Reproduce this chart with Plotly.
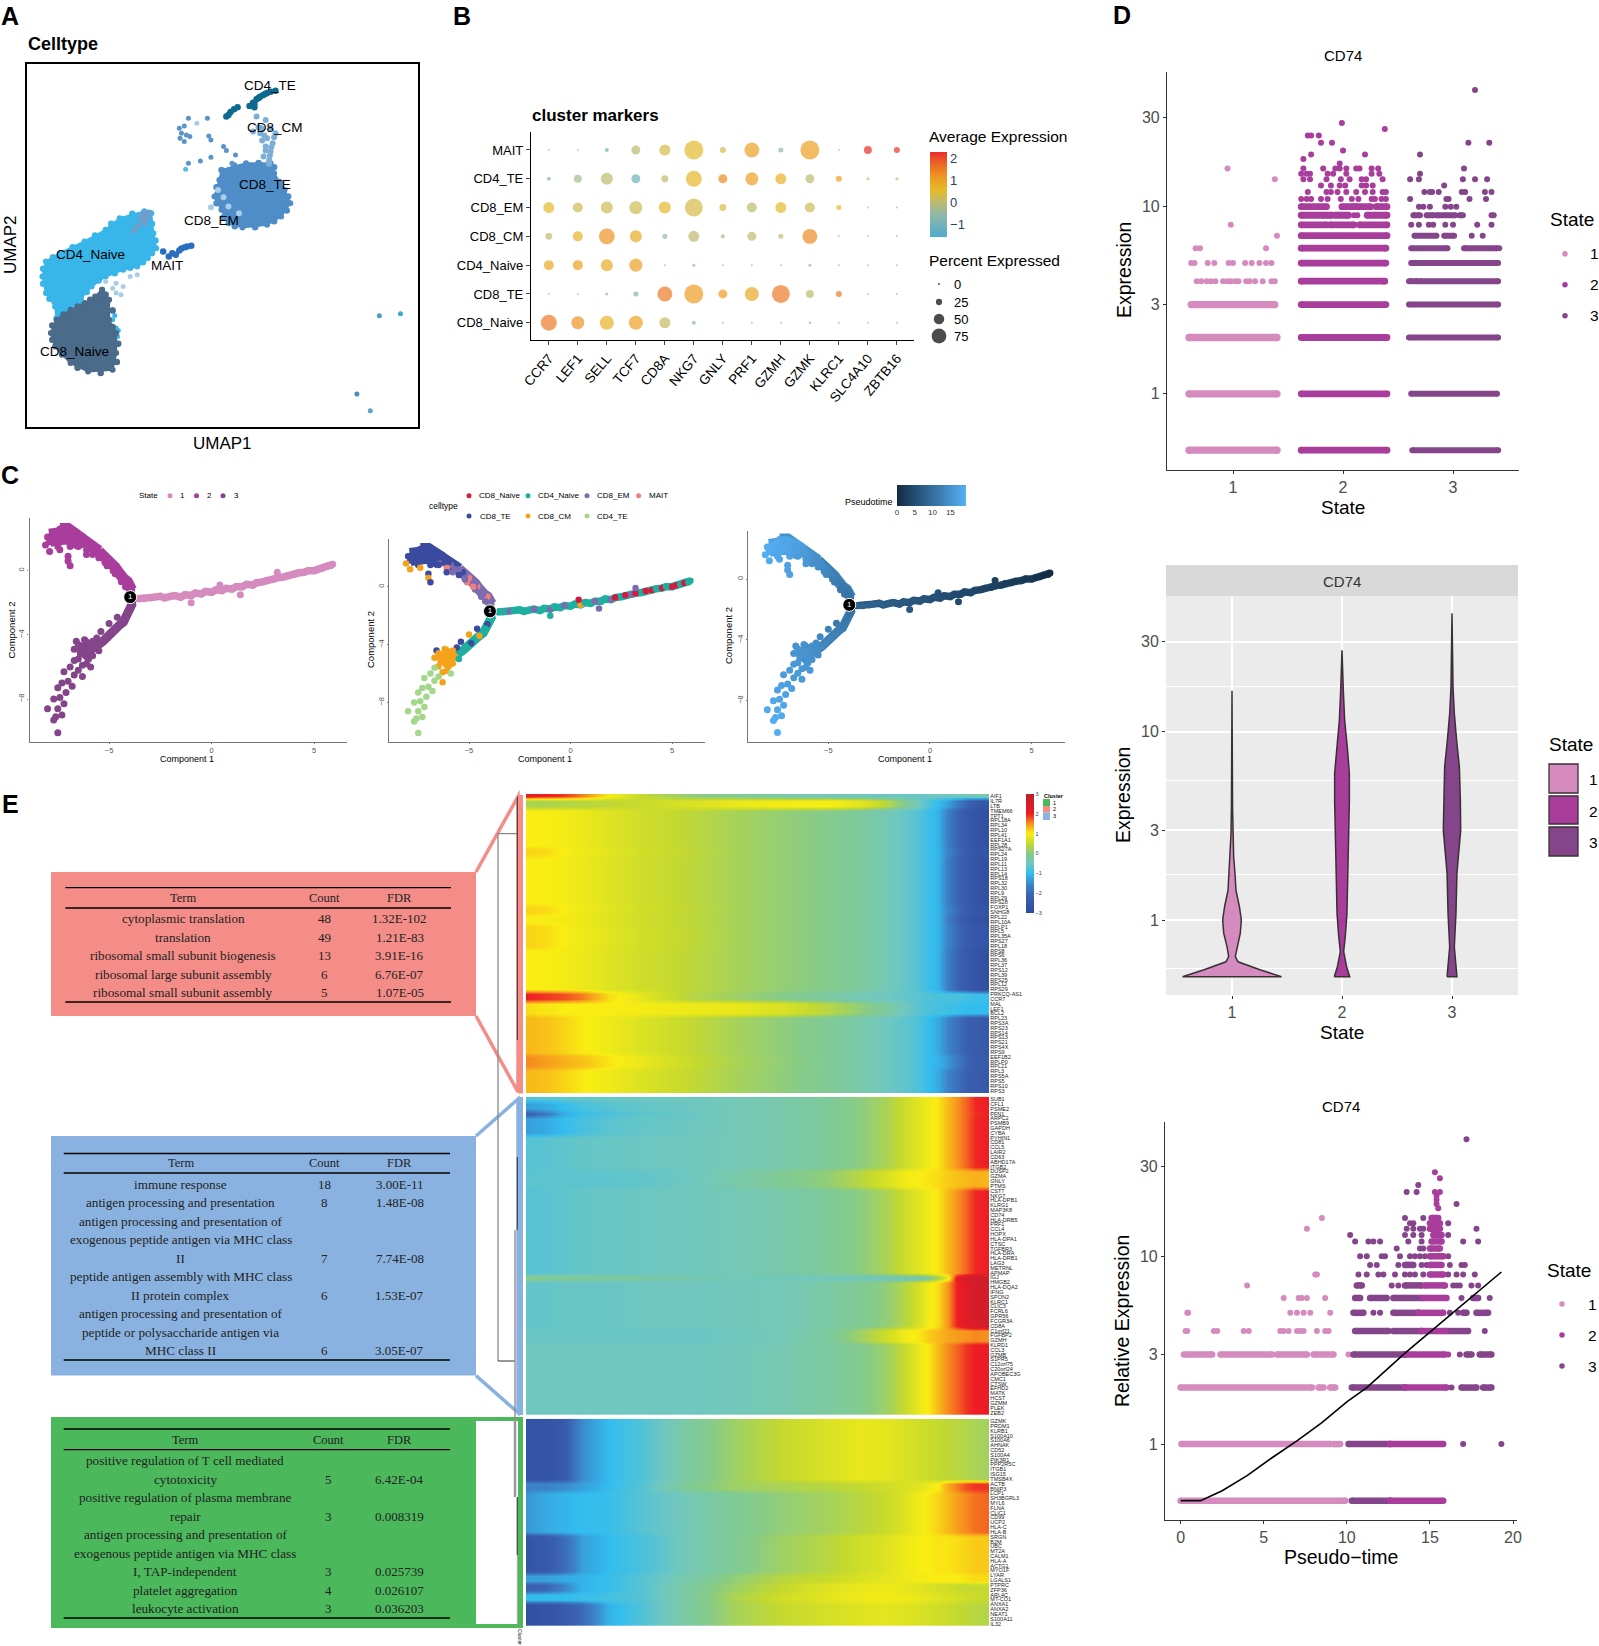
import plotly.graph_objects as go

W, H = 1599, 1646
SANS = "Liberation Sans"
SERIF = "Liberation Serif"
S_COL = {1: "#D58BBE", 2: "#A93D9C", 3: "#85458A"}

# ---------- A: UMAP (outlines and points, arbitrary UMAP units)
naive4_x = [167,132,112,82,47,27,22,27,40,42,62,77,92,112,137,157,172,184,180,177]
naive4_y = [647,627,592,557,522,497,452,402,362,327,357,387,422,452,472,482,507,537,582,642]
naive4_ex = [150,120,97,65,37,23,23,32,47,70,85,102,125,147,165,178,183,178]
naive4_ey = [640,610,575,540,510,475,430,385,345,372,405,440,462,478,495,522,560,610]
naive8_x = [107,117,117,127,127,122,87,62,40,34,42,62,82,97]
naive8_y = [412,382,322,282,222,172,167,192,242,282,322,352,372,392]
naive8_ex = [112,122,122,130,128,105,72,50,36,36,52,72,90]
naive8_ey = [397,350,300,250,195,162,178,218,262,305,338,362,382]
te8_x = [277,312,347,352,367,375,362,342,307,287,277,267,274]
te8_y = [772,792,792,762,712,672,632,607,599,612,652,692,742]
te8_ex = [295,330,352,360,372,370,352,325,296,280,270,270]
te8_ey = [785,793,780,735,692,650,618,600,603,630,672,720]
stripe_x = [122,127,129,127,122,117,112,90,75,60,50,125,130]
stripe_y = [352,297,272,247,322,382,400,380,372,362,345,335,290]
light_x = [127,137,127,147,157,112,122,134,272,287,302,280,262]
light_y = [432,422,402,452,457,437,417,397,712,662,642,690,660]
cm8_x = [327,340,334,347,332,342,340,347,337,345,354,350,322,345,335,346,340,338,352,348,344,330]
cm8_y = [932,922,897,897,882,867,842,827,812,802,882,852,887,790,860,815,830,875,870,840,792,900]
te4_x = [317,324,322,327,332,339,347,354,324,287,290,295,300,284,330,336,342]
te4_y = [964,960,974,984,992,1000,1007,1010,970,937,946,954,960,932,988,996,1003]
sc_x = [217,224,230,257,220,227,218,232,224,259,262,280,284,297,262,247,230,292]
sc_y = [897,904,927,927,882,877,867,872,857,874,862,842,830,817,810,799,792,792]
em8_x = [167,172,162,167,157,174,152,163,170]
em8_y = [642,632,622,610,602,644,590,632,620]
mait_x = [194,202,207,217,225,234,212,220,228]
mait_y = [527,512,522,530,540,544,517,536,542]
out_x = [502,532,470,489,226,242]
out_y = [334,340,99,49,774,912]
out_c = ["#4B9CC0","#36A9D5","#4B8CB8","#5BA5CC","#5DB7E5","#A9CDE8"]
umap_lab = ["CD4_TE","CD8_CM","CD8_TE","CD8_EM","CD4_Naive","MAIT","CD8_Naive"]
umap_lab_x = [269.5,275,264.5,211,90,167,74.4]
umap_lab_y = [85.7,127.7,184,220,254,265,351.7]

# ---------- B: dot plot
genes = ["CCR7","LEF1","SELL","TCF7","CD8A","NKG7","GNLY","PRF1","GZMH","GZMK","KLRC1","SLC4A10","ZBTB16"]
ctypes = ["CD8_Naive","CD8_TE","CD4_Naive","CD8_CM","CD8_EM","CD4_TE","MAIT"]
pct_MAIT =   [0,0,12,41,53,100,24,76,18,100,0,35,24]
pct_CD4TE =  [12,35,59,41,29,82,41,65,53,41,24,6,6]
pct_CD8EM =  [53,47,59,65,59,94,29,47,53,47,18,0,0]
pct_CD8CM =  [29,47,82,59,18,53,12,41,18,76,0,0,0]
pct_CD4N =   [47,47,59,65,0,6,0,0,0,6,0,0,0]
pct_CD8TE =  [0,0,6,18,76,100,41,71,94,35,24,0,0]
pct_CD8N =   [82,65,71,71,53,12,0,0,0,3,0,0,0]
avg_MAIT =   [0,0,-1,0,.3,.5,.3,1,-.5,1,0,2.3,2.2]
avg_CD4TE =  [-.6,-.3,0,-1.1,0,.6,1.3,1,.7,0,1,0,0]
avg_CD8EM =  [.5,.2,.2,.2,.6,.3,.4,0,.5,.2,.6,0,0]
avg_CD8CM =  [0,.7,1.2,.8,-.5,0,-.3,0,0,1.3,0,0,0]
avg_CD4N =   [.8,1,.8,1,-.3,-.6,-.3,-.3,-.3,-.5,-.3,-.3,-.3]
avg_CD8TE =  [0,-.3,-.7,-.8,1.5,1.1,1.1,.9,1.5,0,1.5,-.3,-.3]
avg_CD8N =   [1.5,1.2,.7,1,.1,-.7,-.5,-.3,-.3,-.5,-.3,-.3,-.3]
pct_rows = [pct_CD8N,pct_CD8TE,pct_CD4N,pct_CD8CM,pct_CD8EM,pct_CD4TE,pct_MAIT]
avg_rows = [avg_CD8N,avg_CD8TE,avg_CD4N,avg_CD8CM,avg_CD8EM,avg_CD4TE,avg_MAIT]
dot_scale = [[0,"#4FABCB"],[.26,"#8FB7A8"],[.41,"#BDBB6E"],[.55,"#E6BA28"],[.7,"#EE9A22"],[.85,"#EC6A26"],[1,"#E92B2B"]]

# ---------- C: trajectory (Component 1, Component 2, pseudotime, celltype)
right_x = [-3.6,-3.3,-3.0,-2.8,-2.5,-2.3,-2.0,-1.8,-1.5,-1.3,-1.0,-0.8,-0.5,-0.3,0.0,0.2,0.5,0.7,1.0,1.2,1.5,1.7,2.0,2.2,2.5,2.7,3.0,3.2,3.5,3.7,4.0,4.2,4.5,4.7,5.0,5.2,5.4,5.6,5.8,5.9,-1.0,0.4,1.4,3.2]
right_y = [-1.75,-1.75,-1.7,-1.65,-1.6,-1.7,-1.6,-1.55,-1.65,-1.5,-1.55,-1.4,-1.45,-1.3,-1.35,-1.2,-1.25,-1.1,-1.15,-1.0,-1.0,-0.85,-0.9,-0.75,-0.7,-0.6,-0.55,-0.45,-0.4,-0.3,-0.25,-0.15,-0.1,0.0,0.0,0.1,0.15,0.25,0.3,0.4,-2.0,-0.9,-1.5,-0.1]
right_pt = [8.4,8.2,8,7.8,7.6,7.4,7.2,7,6.8,6.6,6.4,6.2,6,5.8,5.6,5.4,5.2,5,4.8,4.6,4.4,4.2,4,3.8,3.6,3.4,3.2,3,2.8,2.6,2.4,2.2,2,1.8,1.5,1.2,.9,.6,.3,.1,6.4,5.2,4.4,3]
right_c = ["N4","N4","EM","N4","N4","N4","N4","EM","N4","N4","EM","N4","N4","EM","N4","N4","CM","N4","N4","EM","N4","N4","EM","N8","N4","N8","EM","N8","N4","N8","N8","N4","N8","N4","N8","N8","N4","N8","N4","N4","N4","N8","EM","EM"]
upper_x = [-3.9,-4.0,-4.1,-4.3,-4.4,-4.6,-4.7,-4.9,-5.0,-5.2,-5.3,-5.5,-5.7,-5.9,-6.0,-6.2,-6.3,-6.5,-6.6,-6.8,-7.0,-7.2,-7.4,-6.8,-7.0,-7.2,-7.4,-7.6,-7.8,-8.0,-7.0,-7.3,-7.6,-7.9,-6.6,-6.4,-6.1,-5.8,-5.5,-5.1,-4.7,-4.4,-6.9,-7.5,-7.0,-8.1,-7.9,-7.4,-7.0,-6.9,-7.1,-7.5,-7.8,-6.6,-6.2,-5.7,-5.2,-4.8,-4.2,-6.5,-6.1]
upper_y = [-1.2,-0.9,-0.7,-0.5,-0.2,0,0.2,0.4,0.6,0.8,1.0,1.2,1.4,1.5,1.7,1.9,2.1,2.2,2.4,2.5,2.6,2.6,2.6,2.2,2.2,2.2,2.2,2.3,2.2,2.1,1.9,1.9,1.9,1.8,1.8,1.6,1.3,1.0,0.8,0.3,-0.2,-0.7,1.5,1.5,0.9,1.6,1.2,1.3,0.6,0.3,2.4,2.4,2.0,2.1,1.7,1.2,0.5,0,-1.0,1.5,1.0]
upper_pt = [10,10.4,10.8,11.2,11.6,12,12.4,12.8,13.2,13.6,14,14.4,14.8,15.2,15.6,16,16.4,16.8,17.2,17.4,17.6,17.8,18,17.5,17.7,17.9,18,18.2,18.4,18.6,17.6,17.9,18.1,18.4,17,16.6,15.8,15,14.2,13,12,11,17.2,18,17.4,18.8,18.6,18,17.2,17,17.8,18.2,18.5,16.9,16,14.8,13.4,12.4,10.6,16.4,15.6]
upper_c = ["EM","EM","MA","EM","EM","MA","EM","EM","MA","EM","TE","EM","TE","EM","TE","TE","TE","TE","TE","TE","TE","TE","TE","TE","TE","TE","TE","TE","TE","TE","TE","TE","TE","TE","TE","EM","MA","EM","TE","MA","EM","EM","TE","TE","TE","CM","CM","CM","CM","TE","TE","TE","TE","TE","TE","EM","EM","MA","EM","TE","TE"]
lower_x = [-3.85,-3.95,-4.1,-4.2,-4.3,-4.5,-4.7,-4.9,-5.1,-5.3,-5.5,-5.7,-5.9,-6.1,-6.3,-6.6,-6.2,-6.4,-6.0,-5.8,-6.1,-6.3,-6.5,-6.7,-6.5,-6.7,-6.9,-6.3,-7.2,-7.0,-6.8,-7.3,-7.5,-7.1,-7.4,-7.7,-7.2,-7.5,-7.3,-7.6,-7.7,-7.5,-8.0,-4.6,-5.0,-5.4,-5.6,-6.0,-6.4,-5.9,-5.5,-5.8,-6.2,-6.5,-6.7,-6.0]
lower_y = [-2.0,-2.3,-2.6,-2.9,-3.2,-3.4,-3.7,-3.9,-4.2,-4.4,-4.6,-4.8,-5.0,-5.1,-4.7,-4.4,-4.3,-5.2,-5.5,-5.3,-5.8,-5.9,-5.5,-4.9,-6.2,-6.5,-6.0,-6.6,-6.3,-6.9,-7.2,-7.0,-7.3,-7.6,-7.9,-8.0,-8.3,-8.6,-9.0,-9.1,-9.3,-10.1,-8.6,-2.9,-3.3,-3.8,-4.2,-4.7,-5.0,-6.0,-5.0,-4.4,-4.9,-4.6,-5.6,-5.0]
lower_pt = [10,10.4,10.8,11.2,11.6,12,12.4,12.8,13.2,13.6,14,14.4,14.8,15,15,15,14.8,15.2,15.2,15,15.4,15.6,15.6,15.4,16,16.2,16.2,16,16.4,16.6,16.8,16.9,17.2,17.4,17.6,17.8,17.8,18,18.2,18.4,18.6,19,18.2,11.2,12.4,13.6,14,14.8,15.2,15.8,14.2,14.6,15,15.2,15.8,15]
lower_c = ["N4","N4","TE","N4","N4","CM","N4","TE","N4","N4","N4","CM","CM","CM","CM","TE","CM","CM","CM","CM","CM","CM","CM","CM","T4","T4","T4","CM","T4","T4","T4","T4","T4","T4","T4","T4","T4","T4","T4","T4","T4","T4","T4","TE","CM","TE","TE","CM","CM","T4","N4","CM","CM","CM","T4","CM"]
head_x = [-7.9,-7.5,-7.1,-6.7,-6.4]
head_y = [2.05,2.2,2.2,2.05,1.8]
blob_x = [-5.8,-6.1,-6.4]
blob_y = [-4.5,-5.0,-5.3]
cell_col = {"N8":"#D01C3F","N4":"#1FAFA0","EM":"#7E6BAF","MA":"#F08080","TE":"#3B4B9F","CM":"#F5A21B","T4":"#A4D68B"}
pt_bar = [0,2,4,6,8,10,12,14,16,18,19.4]

# ---------- D: jitter bands (level -> [start, end] stretches) and single points
s1_bands = {0.5:[(.6,1.4)],1:[(.6,1.4)],2:[(.6,1.4)],3:[(.62,1.38)]}
s1_pts = {4:[.67,.71,.76,.80,.84,.91,.95,.98,1.02,1.05,1.12,1.15,1.2,1.27,1.35,1.38],
          5:[.62,.65,.77,.83,.96,1.0,1.11,1.17,1.24,1.3,1.35],
          6:[.66,.70,1.30],7:[1.40],8:[.98],14:[1.38],16:[.95]}
s2_bands = {0.5:[(1.62,2.4)],1:[(1.62,2.4)],2:[(1.62,2.4)],3:[(1.62,2.39)],4:[(1.62,2.38)],5:[(1.62,2.39)],
            6:[(1.62,2.39)],7:[(1.62,2.4)],8:[(1.62,1.85),(1.88,2.1),(2.15,2.4)],
            9:[(1.62,1.83),(1.85,1.9),(1.93,2.05),(2.22,2.4)],10:[(1.62,1.85),(1.99,2.1),(2.12,2.25),(2.3,2.4)]}
s2_pts = {9:[2.1,2.13],11:[1.62,1.67,1.71,1.80,1.86,1.98,2.08,2.14,2.26,2.29,2.35,2.39],
          12:[1.68,1.85,1.89,1.95,2.03,2.12,2.2,2.27,2.36,2.39],13:[1.8,1.89,1.97,2.02,2.17,2.21,2.27],
          14:[1.64,1.7,1.85,1.98,2.06,2.17,2.21,2.36],15:[1.62,1.67,1.7,1.86,1.91,2.03,2.26,2.33],
          16:[1.64,1.82,1.93,1.97,2.03,2.12,2.15,2.26,2.32],17:[1.97],18:[1.64],19:[1.71,2.2],20:[2.0],
          22:[1.8,1.9],24:[1.68,1.71,1.78],26:[2.38],28:[1.99]}
s3_bands = {0.5:[(2.63,3.41)],1:[(2.62,3.4)],2:[(2.6,3.41)],3:[(2.6,3.41)],4:[(2.6,2.68),(2.7,3.41)],
            5:[(2.62,3.41)],6:[(2.62,2.95),(3.1,3.4)],7:[(2.65,2.85),(2.92,3.01)],
            9:[(2.64,2.7),(2.76,2.82),(2.85,3.02),(3.06,3.09)]}
s3_pts = {6:[3.42],7:[3.17,3.27],8:[2.62,2.69,2.78,2.82,2.93,3.0,3.22,3.35],9:[3.35,3.37],
          10:[2.69,2.73,2.79,2.93,2.98,3.03],11:[2.61,2.94,2.96,3.15,3.3],
          12:[2.74,2.79,2.81,2.87,3.08,3.11,3.29,3.35],13:[2.92],14:[2.61,2.69,3.09,3.2,3.31],
          15:[2.7],16:[3.1],19:[2.7],22:[3.14,3.33],42:[3.2]}

# violin half widths, read level by level
v1_y = [.5,.543,.6,.64,.72,.85,1,1.18,1.44,1.77,2.17,2.89,4,16.5]
v1_w = [.45,.26,.055,.03,.045,.075,.085,.067,.036,.027,.015,.009,.005,0]
v2_y = [.5,.565,.68,.82,1.08,1.44,2.08,3,4.3,6,8.3,11.5,16.6,27]
v2_w = [.07,.042,.015,.03,.045,.05,.055,.06,.067,.067,.048,.024,.012,0]
v3_y = [.5,.565,.72,1.08,1.77,3,4.3,6.5,9,12.5,17.4,42.5]
v3_w = [.045,.036,.021,.036,.045,.079,.076,.067,.042,.021,.009,0]

# pseudotime panel
p1_bands = {0.5:[(0,9.9)],1:[(0.05,9.0),(9.2,9.6)],2:[(0,7.9),(8.3,8.6),(9,9.3)],3:[(.2,1.9),(2.4,5.5),(5.8,7.6),(8,9.2)]}
p1_pts = {3:[10.1],4:[.3,.4,2.0,2.2,3.8,4.1,6,6.2,6.5,7,7.2,7.4,8.2,8.7,8.9],5:[.4,.45,6.6,7,7.4,7.8,9],
          6:[6.2,7.1,7.3,7.6,8.7],7:[4.0],8:[8.1,8.2],14:[7.6],16:[8.5]}
p3_bands = {0.5:[(10.3,12.6)],1:[(10.1,12.6)],2:[(10.3,13.5),(16.9,17.8),(18.2,18.7)],3:[(10.4,13.5),(17.2,17.5),(18,18.7)],
            4:[(10.5,12.5),(12.8,14.5),(16,17.3)],5:[(10.4,11),(12.8,14.3),(17,17.2),(17.8,18.5)],
            6:[(10.5,10.8),(11.4,12.4),(12.8,14.5),(17.6,17.9)],7:[(10.6,10.9),(13.5,14.5)],9:[(13.5,14.0)]}
p3_pts = {1:[17,19.3],2:[16.3],3:[16.8],4:[18.3],5:[11.6,12,16.2,16.7],6:[16.9,18.6],7:[12.7,13.1,16.4,16.6,16.8,17.5,17.9],
          8:[10.7,11.2,11.9,12.2,12.9,13.5,13.8,14.1,14.6,16.1,16.6,17,17.7],9:[11.4,11.8,13.1,14.5,14.8,16.2,16.9,17.1],
          10:[10.8,11.2,12.1,12.3,13.2,13.8,14.1,14.4,14.7,16.1],11:[13,14.4,14.6],12:[10.5,11.3,11.6,12,13.7,14.5,17,17.9],
          13:[10.2,13.5,14,14.5,16.1],14:[13.6,14,14.4,14.6,17.8],15:[13.8,14,16.1],16:[13.5,14.6],19:[16.6],22:[13.6,14.2],24:[14.3],42:[17.2]}
p2_bands = {0.5:[(12.6,15.8)],1:[(12.6,15.8)],2:[(13.5,16)],3:[(13.5,15.9)],4:[(14.5,15.9)],5:[(14.3,15.8)],6:[(14.6,16)],
            7:[(14.7,15.9)],8:[(15,15.8)],9:[(15,15.7)],10:[(15,15.8)],11:[(15,15.6)],12:[(15.1,15.7)],13:[(15.2,15.7)],
            14:[(15,15.6)],15:[(15,15.6)],16:[(15.1,15.5)]}
p2_pts = {3:[16.1],18:[15.5],19:[15.4],20:[15.4],21:[15.4],22:[15.3,15.6],26:[15.6],28:[15.3]}
curve_x = [0,1.2,2.5,4,5.5,7,8.5,10,11.2,12.5,13.5,15,16.5,18,19.3]
curve_y = [.5,.5,.565,.68,.846,1.04,1.3,1.68,2,2.55,3.05,3.95,5.1,6.6,8.25]

# ---------- E: enrichment tables
t1_term = ["cytoplasmic translation","translation","ribosomal small subunit biogenesis","ribosomal large subunit assembly","ribosomal small subunit assembly"]
t1_count = ["48","49","13","6","5"]
t1_fdr = ["1.32E-102","1.21E-83","3.91E-16","6.76E-07","1.07E-05"]
t2_term = ["immune response","antigen processing and presentation","antigen processing and presentation of","exogenous peptide antigen via MHC class","II","peptide antigen assembly with MHC class","II protein complex","antigen processing and presentation of","peptide or polysaccharide antigen via","MHC class II"]
t2_count = ["18","8","","","7","","6","","","6"]
t2_fdr = ["3.00E-11","1.48E-08","","","7.74E-08","","1.53E-07","","","3.05E-07"]
t3_term = ["positive regulation of T cell mediated","cytotoxicity","positive regulation of plasma membrane","repair","antigen processing and presentation of","exogenous peptide antigen via MHC class","I, TAP-independent","platelet aggregation","leukocyte activation"]
t3_count = ["","5","","3","","","3","4","3"]
t3_fdr = ["","6.42E-04","","0.008319","","","0.025739","0.026107","0.036203"]

# ---------- E: heatmap
XB = [0,4,8,12,18,25,35,45,55,65,72,78,82,85,87,89,91,93,95,97,100]
a_aif = [2.2,2.0,1.9,1.6,1.0,.5,.1,-.1,-.3,-.45,-.5,-.55,-.55,-.55,-.5,-.5,-.5,-.45,-.4,-.3,-.2]
a_il7 = [.3,.3,.35,.4,.45,.55,.7,.85,.95,1.0,.8,.4,-.1,-.5,-.8,-1.0,-1.3,-1.7,-2.1,-2.4,-2.6]
a_main = [1.0,1.0,.95,.88,.75,.6,.45,.27,.12,-.02,-.17,-.4,-.6,-.75,-.95,-1.1,-1.7,-2.1,-2.4,-2.6,-2.8]
a_warm = [1.15,1.1,1.0,.9,.78,.62,.47,.27,.12,-.02,-.17,-.4,-.6,-.75,-.95,-1.1,-1.6,-2.0,-2.3,-2.5,-2.6]
a_prk = [2.0,1.9,1.8,1.6,1.1,.8,.4,.2,0,-.2,-.4,-.5,-.6,-.7,-.75,-.8,-.8,-.8,-.85,-.9,-.95]
a_mal = [1.1,1.05,1.0,1.0,1.0,.95,.9,.85,.7,.4,.1,-.2,-.5,-.7,-.8,-.85,-.9,-.95,-1.0,-1.0,-1.0]
a_rpl = [1.3,1.25,1.15,1.02,.9,.72,.5,.27,.08,-.1,-.3,-.5,-.65,-.8,-1.0,-1.2,-1.6,-1.9,-2.2,-2.3,-2.5]
a_eef = [1.55,1.45,1.35,1.25,1.05,.85,.55,.3,.1,-.1,-.3,-.5,-.65,-.8,-1.0,-1.1,-1.4,-1.7,-2.1,-2.3,-2.4]
b_main = [-.72,-.68,-.63,-.58,-.55,-.52,-.48,-.4,-.3,-.15,.05,.3,.6,.8,.95,1.05,1.3,1.5,1.7,1.95,2.0]
b_cold = [-1.3,-1.2,-1.0,-.82,-.68,-.58,-.52,-.4,-.3,-.15,.05,.3,.6,.8,.95,1.05,1.3,1.5,1.7,1.95,2.0]
b_pfn = [-2.3,-1.8,-1.2,-.95,-.8,-.65,-.55,-.4,-.3,-.15,.05,.3,.6,.8,.95,1.05,1.3,1.5,1.7,1.9,2.0]
b_dusp = [-.66,-.66,-.65,-.65,-.63,-.6,-.5,-.3,-.1,.1,.4,.7,.95,1.0,1.05,1.1,1.2,1.25,1.3,1.35,1.3]
b_igj = [.1,0,-.05,-.1,-.1,-.2,-.3,-.4,-.45,-.5,-.5,-.5,-.5,-.5,-.3,.2,.8,2.2,2.6,2.7,2.7]
b_dark = [-.6,-.6,-.55,-.55,-.55,-.5,-.5,-.45,-.4,-.25,-.1,.1,.4,.7,.95,1.1,1.5,2.0,2.3,2.5,2.6]
b_c1 = [-.55,-.55,-.55,-.55,-.55,-.55,-.55,-.5,-.4,-.2,.2,.6,.95,1.05,1.2,1.3,1.4,1.45,1.5,1.55,1.5]
b_last = [-.5,-.5,-.5,-.5,-.5,-.5,-.5,-.45,-.35,-.2,-.05,.2,.55,.9,1.05,1.3,1.55,1.7,1.9,2.0,2.05]
c_a = [-2.6,-2.6,-2.4,-1.5,-1.0,-.75,-.2,.2,.5,.7,.85,.8,.7,.6,.55,.5,.45,.4,.35,.3,.2]
c_b = [-1.6,-1.6,-1.5,-1.3,-1.0,-.7,-.1,.2,.3,.4,.5,.6,.7,.8,.9,1,1.4,1.6,1.8,1.9,1.9]
c_c = [-1.4,-1.2,-1.1,-1,-.95,-.7,-.4,-.1,.1,.25,.4,.55,.75,.95,1.05,1.15,1.3,1.45,1.55,1.65,1.7]
c_d = [-2.6,-2.4,-2.0,-1.3,-1.0,-.8,-.4,-.1,.2,.4,.6,.75,.9,1,1.0,1.05,1.05,1.1,1.15,1.2,1.2]
c_e = [-1.3,-1.3,-1.2,-1.1,-.95,-.7,-.3,.1,.4,.55,.7,.8,.9,.95,1,1,1,1,1.05,1.1,1.1]
c_f = [-2.2,-2.1,-1.6,-1.1,-.95,-.7,-.2,.2,.5,.75,.85,.9,.8,.75,.7,.65,.6,.55,.5,.5,.5]
c_g = [-1.0,-1.0,-1.0,-.95,-.85,-.7,-.2,.3,.6,.8,.9,.95,.9,.85,.8,.75,.7,.65,.6,.55,.5]
c_h = [-2.8,-2.6,-2.4,-2.0,-1.1,-.75,-.2,.25,.5,.65,.75,.8,.75,.7,.65,.6,.55,.5,.45,.4,.35]
blk1 = [(a_aif,["AIF1"]),(a_il7,["IL7R","LTB"]),
        (a_main,["TMEM66","TPT1","RPL18A","RPL34","RPL10","RPL41","EEF1A1","RPL28"]),
        (a_warm,["RPS27A","RPL24"]),(a_main,["RPL19","RPL11","RPL13","RPL14","RPS18","RPL32","RPL30","RPL9","RPL29","RPS28"]),
        (a_warm,["FOXP1","SNHG8"]),(a_main,["RPL22","RPL10A"]),(a_warm,["RPLP1","RPL5","RPL35A","RPS27","RPL18"]),
        (a_main,["RPS8","RPS6","RPL36","RPL37","RPS12","RPL39","RPS25","RPL12","RPS29"]),
        (a_prk,["PRKCQ-AS1","CCR7"]),(a_mal,["MAL","LEF1","BCL2"]),
        (a_rpl,["RPL23","RPS3A","RPS23","RPS14","RPS13","RPS21","RPS4X","RPS9"]),(a_eef,["EEF1B2","RPLP0","RPL21"]),
        (a_rpl,["RPL3","RPS5A","RPS5","RPS10","RPS3"])]
blk2 = [(b_main,["SUB1"]),(b_cold,["CFL1","PSME2"]),(b_pfn,["PFN1"]),(b_cold,["ARPC2","PSMB9","GAPDH","CYBA"]),
        (b_main,["PYHIN1","CD81","CCL5","LAIR2","CD63","ABHD17A","ITGB2"]),(b_dusp,["DUSP2","GZMA","GNLY","PTMS"]),
        (b_main,["CST7","NKG7","HLA-DPB1","KLRG1","MAP3K8","CD74","HLA-DRB5","PRF1","CCL4","HOPX","HLA-DPA1","CTSC","TGFBR3","HLA-DRA","HLA-DRB1","LAG3","METRNL","APMAP"]),
        (b_igj,["IGJ"]),(b_dark,["HMGB2","HLA-DQA2","IFNG","SPON2","KLRC1","CLIC3","FCRL6","GPR56","FCGR3A","CD8A"]),
        (b_c1,["C1orf21","FGFBP2","GZMH"]),
        (b_last,["KLRD1","CCL3","GZMB","S1PR5","C12orf75","C20orf24","APOBEC3G","CMC1","CTSW","EFHD2","MATK","HCST","GZMM","PLEK","ZEB2"])]
blk3 = [(c_a,["GZMK","PRDM1","KLRB1","S100A10","S100A6","AHNAK","CD52","S100A4","PIK3R1","PPP2R5C","ITGB1","ISG15","TMSB4X"]),
        (c_b,["ACTB","BNIP3"]),(c_c,["LCP1","SH3BGRL3","MYL6","FLNA","CLIC1","CD99","UCP2","HLA-C","HLA-B"]),
        (c_d,["SRGN","B2M","UBC","MT2A","CALM1","HLA-A","ACTG1","MYO1F"]),(c_e,["LYAR","LGALS1"]),(c_f,["PTPRC","ZFP36"]),
        (c_g,["ARL4C","MT-CO1"]),(c_h,["ANXA1","ANXA2","NEAT1","S100A11","IL32"])]
heat_scale = [[0,"#2E4A9E"],[.133,"#3A5FAF"],[.233,"#3C82C8"],[.333,"#33BDEF"],[.417,"#6FC7C0"],[.5,"#86CB8A"],
              [.583,"#C4D92F"],[.667,"#F9ED13"],[.75,"#F7941E"],[.833,"#EE1C25"],[1,"#BE1E2D"]]

# ---------- assembling
fig = go.Figure()
layout = {}
annots = []
shapes = []

def axes(i, box, xr, yr, xkw=None, ykw=None):
    x0, y0, x1, y1 = box
    xd = dict(domain=[x0/W, x1/W], range=xr, anchor=f"y{i}", showgrid=False, zeroline=False, showline=False, showticklabels=False, ticks="")
    yd = dict(domain=[1-y1/H, 1-y0/H], range=yr, anchor=f"x{i}", showgrid=False, zeroline=False, showline=False, showticklabels=False, ticks="")
    xd.update(xkw or {}); yd.update(ykw or {})
    layout[f"xaxis{i}"] = xd
    layout[f"yaxis{i}"] = yd
    return dict(xaxis=f"x{i}", yaxis=f"y{i}")

page = axes(99, (0, 0, W, H), [0, W], [H, 0], dict(visible=False), dict(visible=False))

def T(x, y, s, size=12, color="#000", anchor="center", angle=0, font=SANS, bold=False):
    annots.append(dict(xref="x99", yref="y99", x=x, y=y, text=f"<b>{s}</b>" if bold else s, showarrow=False,
                       xanchor=anchor, yanchor="middle", textangle=angle, font=dict(family=font, size=size, color=color),
                       borderpad=0, align="center"))

def rect(x0, y0, x1, y1, fill, line=None, lw=0):
    shapes.append(dict(type="rect", xref="x99", yref="y99", x0=x0, y0=y0, x1=x1, y1=y1, fillcolor=fill,
                       line=dict(color=line or fill, width=lw)))

def seg(x0, y0, x1, y1, color, w=1):
    shapes.append(dict(type="line", xref="x99", yref="y99", x0=x0, y0=y0, x1=x1, y1=y1, line=dict(color=color, width=w)))

def dots(xs, ys, color, size, ax):
    fig.add_trace(go.Scatter(x=xs, y=ys, mode="markers", marker=dict(color=color, size=size, line=dict(width=0)), cliponaxis=False, **ax))

# panel letters
for s, x, y in [("A",10,16),("B",462,16),("C",10,475),("D",1122,15),("E",10,804)]:
    T(x, y, s, 25, bold=True)

# A
ax = axes(1, (27,64,418,427), [0,557], [0,1090],
          dict(showline=True, mirror=True, linecolor="#000", linewidth=1.5),
          dict(showline=True, mirror=True, linecolor="#000", linewidth=1.5))
def blob(x, y, c, ex, ey):
    fig.add_trace(go.Scatter(x=x+x[:1], y=y+y[:1], mode="lines+markers", fill="toself", fillcolor=c,
                             line=dict(color=c, width=2), marker=dict(color=c, size=6), **ax))
    dots(ex, ey, c, 6.5, ax)
blob(naive4_x, naive4_y, "#38B6EA", naive4_ex, naive4_ey)
dots(stripe_x, stripe_y, "#38B6EA", 5, ax)
dots(light_x, light_y, "#A9CDE8", 5, ax)
blob(te8_x, te8_y, "#4E8DC8", te8_ex, te8_ey)
dots(light_x[8:], light_y[8:], "#A9CDE8", 6, ax)
blob(naive8_x, naive8_y, "#4A6B8A", naive8_ex, naive8_ey)
dots(cm8_x, cm8_y, "#7DAFD6", 6, ax)
dots(te4_x, te4_y, "#0D6A8F", 6.5, ax)
dots(sc_x, sc_y, "#5B94C9", 5, ax)
dots(em8_x, em8_y, "#6F9FC9", 6, ax)
dots(mait_x, mait_y, "#2A6FBF", 6.5, ax)
dots(out_x, out_y, out_c, 5, ax)
for s, x, y in zip(umap_lab, umap_lab_x, umap_lab_y):
    T(x, y, s, 13.5)
T(27, 44, "Celltype", 18, anchor="left", bold=True)
T(222, 443, "UMAP1", 17)
T(10, 245, "UMAP2", 17, angle=-90)

# B
ax = axes(2, (531,132,914,340), [-0.614,12.59], [-0.6,6.625],
          dict(type="category", categoryorder="array", categoryarray=genes, showline=True, linecolor="#000", linewidth=1.2,
               showticklabels=True, ticks="outside", ticklen=4, tickangle=-50, tickfont=dict(family=SANS, size=13.5, color="#000"), tickson="labels"),
          dict(type="category", categoryorder="array", categoryarray=ctypes, showline=True, linecolor="#000", linewidth=1.2,
               showticklabels=True, ticks="outside", ticklen=4, tickfont=dict(family=SANS, size=13, color="#000")))
dx, dy, dc, ds = [], [], [], []
for r, ct in enumerate(ctypes):
    for g, gene in enumerate(genes):
        dx.append(gene); dy.append(ct); dc.append(avg_rows[r][g]); ds.append(2 + .17*pct_rows[r][g])
fig.add_trace(go.Scatter(x=dx, y=dy, mode="markers", marker=dict(color=dc, size=ds, sizemode="diameter", colorscale=dot_scale, cmin=-1.59, cmax=2.27,
    line=dict(width=0), colorbar=dict(x=930/W, xanchor="left", y=1-237/H, yanchor="bottom", lenmode="pixels", len=85, thickness=17, xpad=0, ypad=0,
    outlinewidth=0, ticks="", tickvals=[-1,0,1,2], ticktext=["−1","0","1","2"], tickfont=dict(family=SANS, size=13))), **ax))
T(531, 115, "cluster markers", 17, anchor="left", bold=True)
T(928, 136, "Average Expression", 15.5, anchor="left")
T(928, 260, "Percent Expressed", 15.5, anchor="left")
leg_pct = [0, 25, 50, 75]
dots([939]*4, [284,302,319,336], "#000", [2+.17*p for p in leg_pct], page)
for p, y in zip(leg_pct, [284,302,319,336]):
    T(953, y, str(p), 13, anchor="left")

# C
all_x = right_x + upper_x + lower_x
all_y = right_y + upper_y + lower_y
all_pt = right_pt + upper_pt + lower_pt
all_cell = right_c + upper_c + lower_c
all_state = [1]*len(right_x) + [2]*len(upper_x) + [3]*len(lower_x)
def traj_axes(i, box, xr, yr):
    tk = dict(showline=True, linecolor="#777", linewidth=1.2, showticklabels=True, ticks="outside", ticklen=1, tickcolor="#777",
              tickfont=dict(family=SANS, size=7.5, color="#555"))
    return axes(i, box, xr, yr, dict(tk, tickvals=[-5,0,5], ticktext=["−5","0","5"]), dict(tk, tickvals=[-8,-4,0], ticktext=["−8","−4","0"], tickangle=-90))
boxes = [(29.5,518,347,741.7),(389,539,705,741.7),(748,530.7,1064.6,741.7)]
yrs = [[-10.66,3.28],[-10.7,3.29],[-10.7,3.18]]
xrs = [[-8.88,6.6],[-8.94,6.62],[-8.95,6.62]]
node_y = [-1.65,-1.7,-1.7]
spines = [(right_x[:40],right_y[:40],7.5),(upper_x[:12],upper_y[:12],11),(upper_x[11:23],upper_y[11:23],12),
          (head_x,head_y,18),(lower_x[:14],lower_y[:14],9),(blob_x,blob_y,15)]
spine_col = [[S_COL[1],S_COL[2],S_COL[2],S_COL[2],S_COL[3],S_COL[3]],
             [cell_col["N4"],cell_col["EM"],cell_col["TE"],cell_col["TE"],cell_col["N4"],cell_col["CM"]],
             ["#22527A","#3A7FB8","#4491CC","#4FA2E0","#3A7FB8","#3F8AC5"]]
for k in range(3):
    ax = traj_axes(3+k, boxes[k], xrs[k], yrs[k])
    for (sx, sy, lw), c in zip(spines, spine_col[k]):
        fig.add_trace(go.Scatter(x=sx, y=sy, mode="lines", line=dict(color=c, width=lw), **ax))
    if k == 0:
        mk = dict(color=[S_COL[s] for s in all_state], size=7, line=dict(width=0))
    elif k == 1:
        mk = dict(color=[cell_col[c] for c in all_cell], size=6.5, line=dict(width=0))
    else:
        mk = dict(color=all_pt, colorscale=[[0,"#132B43"],[1,"#56B1F7"]], cmin=0, cmax=19.4, size=7, line=dict(width=0))
    fig.add_trace(go.Scatter(x=all_x, y=all_y, mode="markers", marker=mk, **ax))
    fig.add_trace(go.Scatter(x=[-3.97], y=[node_y[k]], mode="markers+text", text=["1"], textposition="middle center",
                             textfont=dict(color="#fff", size=8, family=SANS), marker=dict(color="#000", size=13, line=dict(color="#fff", width=1)), **ax))
for x in (187, 545, 905):
    T(x, 759, "Component 1", 9)
T(10.5, 630, "Component 2", 9.5, angle=-90)
T(370, 640, "Component 2", 9.5, angle=-90)
T(728, 636, "Component 2", 9.5, angle=-90)
T(148, 495.7, "State", 8)
for x, lx, s in [(170,182.5,1),(196.5,209,2),(223,236,3)]:
    dots([x], [495.7], S_COL[s], 5, page)
    T(lx, 495.7, str(s), 8)
T(443, 506, "celltype", 8.5)
for x, y, tx, key, s in [(469,495.7,499,"N8","CD8_Naive"),(528,495.7,558,"N4","CD4_Naive"),(587,495.7,613,"EM","CD8_EM"),(638.6,495.7,658,"MA","MAIT"),
                         (469,516,495,"TE","CD8_TE"),(528,516,554,"CM","CD8_CM"),(587,516,612,"T4","CD4_TE")]:
    dots([x], [y], cell_col[key], 5, page)
    T(tx, y, s, 8)
ax = axes(6, (897,485,966,506), [0,19.4], [0,1],
          dict(showticklabels=True, tickvals=[0,5,10,15], tickfont=dict(family=SANS, size=8, color="#333"), ticks="", ticklen=0), None)
fig.add_trace(go.Heatmap(x=pt_bar, y=[0,1], z=[pt_bar, pt_bar], colorscale=[[0,"#132B43"],[1,"#56B1F7"]], zmin=0, zmax=19.4, showscale=False, zsmooth="best", **ax))
T(869, 501.7, "Pseudotime", 9)

# D helper
def draw_bands(bands, col, ax, lw=6):
    xs, ys = [], []
    for lev, parts in bands.items():
        for a, b in parts:
            xs += [a, b, None]; ys += [lev, lev, None]
    fig.add_trace(go.Scatter(x=xs, y=ys, mode="lines+markers", line=dict(color=col, width=lw), marker=dict(color=col, size=lw), cliponaxis=False, **ax))
def draw_pts(pts, col, ax, size=6):
    xs, ys = [], []
    for lev, parts in pts.items():
        xs += parts; ys += [lev]*len(parts)
    fig.add_trace(go.Scatter(x=xs, y=ys, mode="markers", marker=dict(color=col, size=size, line=dict(width=0)), cliponaxis=False, **ax))

def d_x(**kw):
    d = dict(showline=True, linecolor="#333", linewidth=1.2, showticklabels=True, ticks="outside", ticklen=3, tickcolor="#333",
             tickfont=dict(family=SANS, size=16, color="#4D4D4D"))
    d.update(kw); return d
y_log = dict(type="log", tickvals=[1,3,10,30], ticktext=["1","3","10","30"])

# D1
ax = axes(7, (1167,71.6,1519,470), [.4,3.6], [-.407,1.722], d_x(tickvals=[1,2,3]), d_x(**y_log))
for bands, pts, s, lw in [(s1_bands,s1_pts,1,7.3),(s2_bands,s2_pts,2,6.8),(s3_bands,s3_pts,3,6)]:
    draw_bands(bands, S_COL[s], ax, lw=lw)
    draw_pts(pts, S_COL[s], ax)
T(1343, 55.8, "CD74", 15)
T(1343, 507, "State", 19)
T(1124, 270, "Expression", 19.5, angle=-90)
T(1572, 219.7, "State", 19)
for s, y in zip([1,2,3], [253.8,284.8,315.8]):
    dots([1565], [y], S_COL[s], 5.5, page)
    T(1594, y, str(s), 15.5)

# D2
ax = axes(8, (1166,596,1518,995), [.4,3.6], [-.398,1.72],
          d_x(tickvals=[1,2,3], showline=False, showgrid=True, gridcolor="#fff", gridwidth=1.8),
          d_x(showline=False, showgrid=True, gridcolor="#fff", gridwidth=1.8, minor=dict(tickvals=[.55,1.75,5.5,17.3], showgrid=True, gridcolor="#fff", gridwidth=1, ticks=""), **y_log))
shapes.append(dict(type="rect", xref="x8 domain", yref="y8 domain", x0=0, y0=0, x1=1, y1=1, fillcolor="#EBEBEB", line=dict(width=0), layer="below"))
rect(1166, 565, 1518, 596, "#D9D9D9")
for c, vy, vw, s in [(1,v1_y,v1_w,1),(2,v2_y,v2_w,2),(3,v3_y,v3_w,3)]:
    fig.add_trace(go.Scatter(x=[c-w for w in vw] + [c+w for w in vw[::-1]] + [c-vw[0]], y=vy + vy[::-1] + [vy[0]], mode="lines", fill="toself",
                             fillcolor=S_COL[s], line=dict(color="#3A3038", width=1.5), **ax))
T(1342, 581, "CD74", 15, color="#333")
T(1342, 1032, "State", 19)
T(1123, 795, "Expression", 19.5, angle=-90)
T(1571, 744, "State", 19)
for s, (y0, y1), ly in zip([1,2,3], [(764,793),(796,824),(827,856)], [779,811,842]):
    rect(1549, y0, 1578, y1, S_COL[s], "#3A3038", 1.3)
    T(1593, ly, str(s), 15.5)

# D3
ax = axes(9, (1165,1122,1517,1520), [-.94,20.24], [-.404,1.715], d_x(tickvals=[0,5,10,15,20]), d_x(**y_log))
draw_bands(p1_bands, S_COL[1], ax, lw=6.5)
draw_pts(p1_pts, S_COL[1], ax)
draw_bands(p3_bands, S_COL[3], ax, lw=6.5)
draw_pts(p3_pts, S_COL[3], ax)
draw_bands(p2_bands, S_COL[2], ax, lw=6.5)
draw_pts(p2_pts, S_COL[2], ax)
fig.add_trace(go.Scatter(x=curve_x, y=curve_y, mode="lines", line=dict(color="#000", width=1.6), **ax))
T(1341, 1106, "CD74", 15)
T(1341, 1557, "Pseudo−time", 19.5)
T(1122, 1321, "Relative Expression", 19.5, angle=-90)
T(1569, 1270, "State", 19)
for s, y in zip([1,2,3], [1304,1335,1366]):
    dots([1562], [y], S_COL[s], 5.5, page)
    T(1592, y, str(s), 15.5)

# E tables
RED, BLUE, GREEN = "#F48D88", "#8AB2E0", "#4CB85C"
shapes.append(dict(type="path", xref="x99", yref="y99", path="M476,872 L518,796.6 L518,1092 L476,1016", fillcolor="rgba(0,0,0,0)", line=dict(color=RED, width=3.5)))
shapes.append(dict(type="path", xref="x99", yref="y99", path="M476,1136 L518,1099 L518,1412.6 L476,1375.6", fillcolor="rgba(0,0,0,0)", line=dict(color=BLUE, width=3.5)))
rect(518, 795, 523, 1093.5, RED)
rect(518, 1097, 523, 1415, BLUE)
rect(51, 872, 476, 1016, RED)
rect(51, 1136, 476, 1375.6, BLUE)
rect(51, 1417, 523, 1628, GREEN)
rect(476, 1421, 518, 1624, "#fff")

def table(x0, x1, lines, hy, ry, cols, term, count, fdr):
    for y in lines:
        seg(x0, y, x1, y, "#000", 1.3)
    for s, x in zip(["Term","Count","FDR"], cols):
        T(x, hy, s, 12.5, font=SERIF, color="#222")
    for y, a, b, c in zip(ry, term, count, fdr):
        T(cols[0], y, a, 13.2, font=SERIF, color="#222")
        if b: T(cols[1], y, b, 13, font=SERIF, color="#222")
        if c: T(cols[2], y, c, 13, font=SERIF, color="#222")
table(65.4, 451, [887.7,908,1002], 898, [918,937,955,974,992], [183,324,399.5], t1_term, t1_count, t1_fdr)
table(63.7, 450, [1153.5,1173,1360], 1163.4, [1184,1202.6,1221,1239.7,1258,1276.7,1295,1313.7,1332.5,1350.7], [180.8,324,399.5], t2_term, t2_count, t2_fdr)
table(63.7, 450, [1429,1449.6,1618], 1440, [1460.7,1479,1497,1516,1534,1553,1571,1590,1608], [185,328,399.5], t3_term, t3_count, t3_fdr)

# dendrogram
seg(498, 833.6, 498, 1361, "#888", 1.3)
seg(498, 833.6, 517.3, 833.6, "#888", 1.3)
seg(498, 1361, 515, 1361, "#333", 1)
seg(517.3, 796.6, 517.3, 1040, "#333", 1)
seg(517.3, 1157, 517.3, 1230, "#333", 1)
seg(515, 1230, 515, 1420, "#888", 1.3)
seg(515, 1420, 515, 1497, "#999", 2.5)
seg(517.3, 1497, 517.3, 1555, "#444", 1.3)
seg(517.3, 1555, 517.3, 1627, "#999", 1)
T(520, 1637, "Cluster", 5, angle=90)

# E heatmaps
heat_boxes = [(526,794,989.3,1093),(526,1096.7,989.3,1415),(526,1418.7,989.3,1626)]
for k, blk in enumerate([blk1, blk2, blk3]):
    labels, z = [], []
    for prof, names in blk:
        for n in names:
            labels.append(n); z.append(prof)
    idx = list(range(len(labels)))
    ax = axes(10+k, heat_boxes[k], [0,100], [len(labels)-.5,-.5], None,
              dict(side="right", showticklabels=True, tickmode="array", tickvals=idx, ticktext=labels, ticklen=0,
                   tickfont=dict(family=SANS, size=5.5, color="#222")))
    hm = dict(x=XB, y=idx, z=z, colorscale=heat_scale, zmin=-3, zmax=3, zsmooth="best")
    if k == 0:
        hm.update(showscale=True, colorbar=dict(x=1026/W, xanchor="left", y=1-794/H, yanchor="top", lenmode="pixels", len=119, thickness=8, xpad=0, ypad=0,
                  outlinewidth=0, ticks="", tickvals=[-3,-2,-1,0,1,2,3], ticktext=["−3","−2","−1","0","1","2","3"], tickfont=dict(family=SANS, size=5.5)))
    else:
        hm["showscale"] = False
    fig.add_trace(go.Heatmap(**hm, **ax))
T(1043, 796, "Cluster", 5.5, anchor="left", bold=True)
for (y0, y1), c, s in zip([(799,806),(806,812.5),(812.5,820)], [GREEN, RED, BLUE], ["1","2","3"]):
    rect(1043, y0, 1050, y1, c)
    T(1052, (y0+y1)/2, s, 5.5, anchor="left")

fig.update_layout(width=W, height=H, margin=dict(l=0, r=0, t=0, b=0, autoexpand=False), autosize=False, showlegend=False, hovermode=False,
                  paper_bgcolor="#fff", plot_bgcolor="rgba(0,0,0,0)", annotations=annots, shapes=shapes, font=dict(family=SANS), **layout)
fig.write_html("out.html", post_script="document.body.style.margin='0';", config=dict(displayModeBar=False))
